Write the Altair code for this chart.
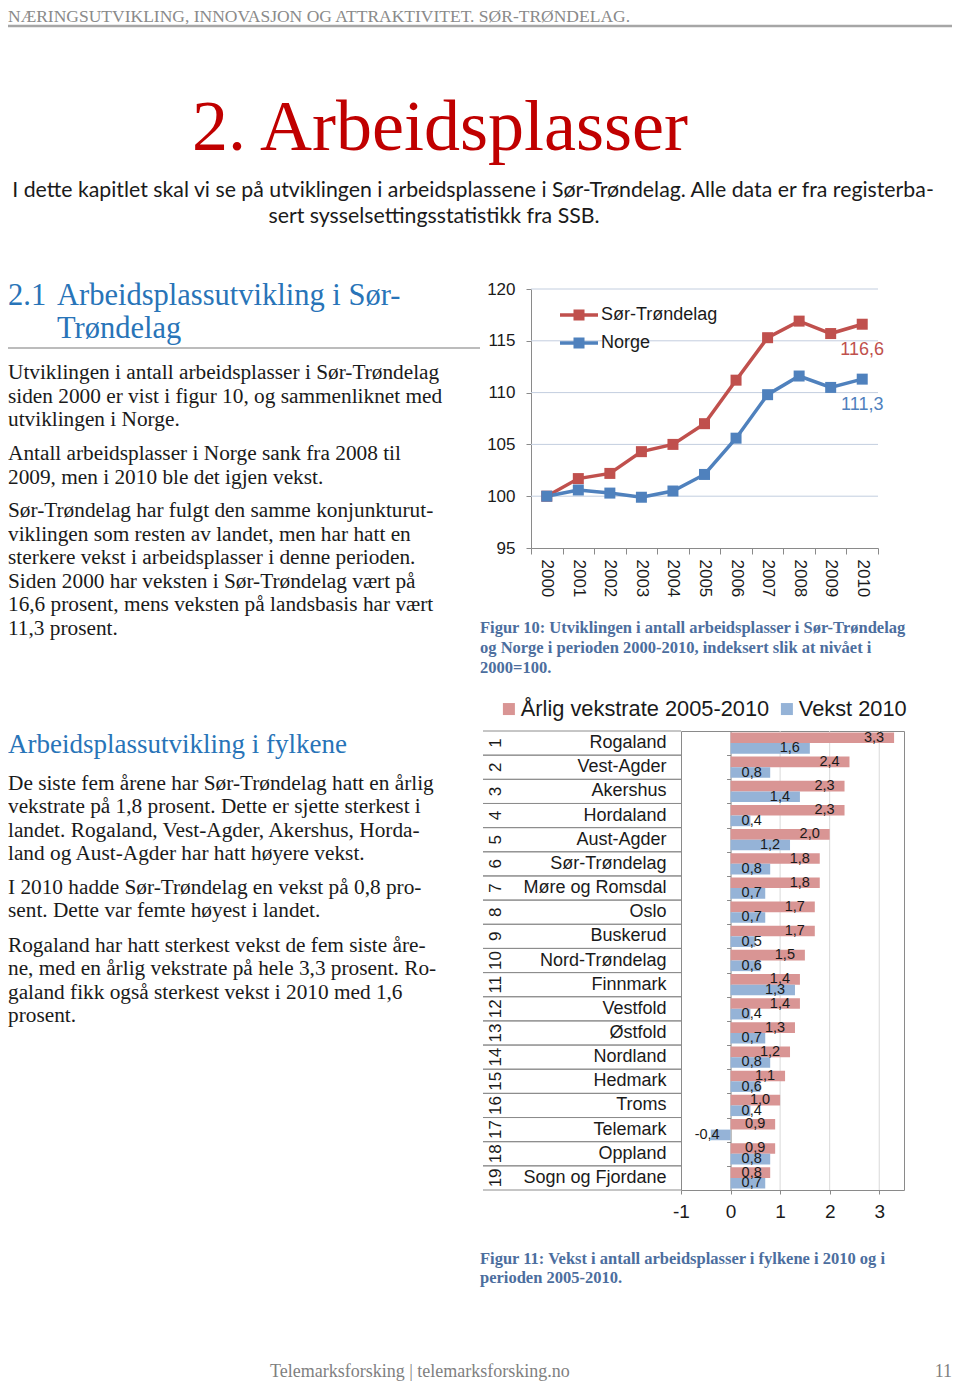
import altair as alt
import pandas as pd

# ---------------- data ----------------
years = ["2000", "2001", "2002", "2003", "2004", "2005", "2006", "2007", "2008", "2009", "2010"]
sor_trondelag = [100.0, 101.7, 102.2, 104.3, 105.0, 107.0, 111.2, 115.3, 116.9, 115.7, 116.6]
norge = [100.0, 100.6, 100.3, 99.9, 100.5, 102.1, 105.6, 109.8, 111.6, 110.5, 111.3]
line_series = ["Sør-Trøndelag", "Norge"]
line_colors = ["#C0504D", "#4F81BD"]
line_ticks = [95, 100, 105, 110, 115, 120]

fylker = ["Rogaland", "Vest-Agder", "Akershus", "Hordaland", "Aust-Agder", "Sør-Trøndelag",
          "Møre og Romsdal", "Oslo", "Buskerud", "Nord-Trøndelag", "Finnmark", "Vestfold",
          "Østfold", "Nordland", "Hedmark", "Troms", "Telemark", "Oppland", "Sogn og Fjordane"]
ranks = [1, 2, 3, 4, 5, 6, 7, 8, 9, 10, 11, 12, 13, 14, 15, 16, 17, 18, 19]
vekstrate_2005_2010 = [3.3, 2.4, 2.3, 2.3, 2.0, 1.8, 1.8, 1.7, 1.7, 1.5, 1.4, 1.4, 1.3, 1.2, 1.1, 1.0, 0.9, 0.9, 0.8]
vekst_2010 = [1.6, 0.8, 1.4, 0.4, 1.2, 0.8, 0.7, 0.7, 0.5, 0.6, 1.3, 0.4, 0.7, 0.8, 0.6, 0.4, -0.4, 0.8, 0.7]
bar_series = ["Årlig vekstrate 2005-2010", "Vekst 2010"]
bar_colors = ["#D99594", "#95B3D7"]
bar_ticks = [-1, 0, 1, 2, 3]
bar_grid = [1, 2, 3]

header = "NÆRINGSUTVIKLING, INNOVASJON OG ATTRAKTIVITET. SØR-TRØNDELAG."
title = "2. Arbeidsplasser"
intro = ["I dette kapitlet skal vi se på utviklingen i arbeidsplassene i Sør-Trøndelag. Alle data er fra registerba-",
         "sert sysselsettingsstatistikk fra SSB."]
heading1_num = "2.1"
heading1 = ["Arbeidsplassutvikling i Sør-", "Trøndelag"]
para1 = ["Utviklingen i antall arbeidsplasser i Sør-Trøndelag",
         "siden 2000 er vist i figur 10, og sammenliknet med",
         "utviklingen i Norge."]
para2 = ["Antall arbeidsplasser i Norge sank fra 2008 til",
         "2009, men i 2010 ble det igjen vekst."]
para3 = ["Sør-Trøndelag har fulgt den samme konjunkturut-",
         "viklingen som resten av landet, men har hatt en",
         "sterkere vekst i arbeidsplasser i denne perioden.",
         "Siden 2000 har veksten i Sør-Trøndelag vært på",
         "16,6 prosent, mens veksten på landsbasis har vært",
         "11,3 prosent."]
heading2 = "Arbeidsplassutvikling i fylkene"
para4 = ["De siste fem årene har Sør-Trøndelag hatt en årlig",
         "vekstrate på 1,8 prosent. Dette er sjette sterkest i",
         "landet. Rogaland, Vest-Agder, Akershus, Horda-",
         "land og Aust-Agder har hatt høyere vekst."]
para5 = ["I 2010 hadde Sør-Trøndelag en vekst på 0,8 pro-",
         "sent. Dette var femte høyest i landet."]
para6 = ["Rogaland har hatt sterkest vekst de fem siste åre-",
         "ne, med en årlig vekstrate på hele 3,3 prosent. Ro-",
         "galand fikk også sterkest vekst i 2010 med 1,6",
         "prosent."]
caption10 = ["Figur 10: Utviklingen i antall arbeidsplasser i Sør-Trøndelag",
             "og Norge i perioden 2000-2010, indeksert slik at nivået i",
             "2000=100."]
caption11 = ["Figur 11: Vekst i antall arbeidsplasser i fylkene i 2010 og i",
             "perioden 2005-2010."]
footer = "Telemarksforsking  |  telemarksforsking.no"
page_no = "11"

# ---------------- tables ----------------
line_df = pd.DataFrame({
    "year": years * 2,
    "series": [line_series[0]] * len(years) + [line_series[1]] * len(years),
    "value": sor_trondelag + norge,
})
bar_df = pd.DataFrame({
    "fylke": fylker * 2,
    "series": [bar_series[0]] * len(fylker) + [bar_series[1]] * len(fylker),
    "value": vekstrate_2005_2010 + vekst_2010,
})
names_df = pd.DataFrame({"fylke": fylker, "rank": ranks})
BLANK = alt.Data(values=[{}])

SERIF = "Liberation Serif"
SANS = "Liberation Sans"
W, H = 944, 1373

# ---------------- scales ----------------
LX = alt.Scale(type="band", domain=years, range=[523, 870], paddingInner=0, paddingOuter=0)
LY = alt.Scale(domain=[95, 120], range=[540, 281], nice=False, zero=False)
LC = alt.Scale(domain=line_series, range=line_colors)
BX = alt.Scale(domain=[-1, 3.5], range=[673, 896], nice=False, zero=False)
BY = alt.Scale(type="band", domain=fylker, range=[723, 1182], paddingInner=0.12, paddingOuter=0.06)
BY0 = alt.Scale(type="band", domain=fylker, range=[723, 1182], paddingInner=0, paddingOuter=0)
BC = alt.Scale(domain=bar_series, range=bar_colors)

AX = dict(title=None, grid=False, labelFont=SANS, labelColor="#1a1a1a",
          domainColor="#8a8a8a", tickColor="#8a8a8a", labelOverlap=False)


def text_block(lines, x, y, size, color, font=SERIF, weight="normal", align="left", lh=None):
    kw = dict(align=align, baseline="alphabetic", font=font, fontSize=size, color=color, fontWeight=weight)
    if lh is not None:
        kw["lineHeight"] = lh
    return alt.Chart(BLANK).mark_text(**kw).encode(
        x=alt.value(x), y=alt.value(y), text=alt.value(lines))


layers = []

# ---------------- page text ----------------
layers.append(text_block(header, 0, 14, 17.5, "#8a8a8a"))
layers.append(alt.Chart(BLANK).mark_rule(color="#a6a6a6", strokeWidth=2.5).encode(
    x=alt.value(0), x2=alt.value(W), y=alt.value(18)))
layers.append(text_block(title, 432, 142, 72, "#C00000", align="center"))
layers.append(text_block(intro[0], 465, 189, 21.3, "#1a1a1a", font="Lato", align="center"))
layers.append(text_block(intro[1], 426, 215, 21.3, "#1a1a1a", font="Lato", align="center"))

layers.append(text_block(heading1_num, 0, 297, 30.5, "#2874B8"))
layers.append(text_block(heading1, 49, 297, 30.5, "#2874B8", lh=33))
layers.append(alt.Chart(BLANK).mark_rule(color="#a6a6a6", strokeWidth=1.5).encode(
    x=alt.value(0), x2=alt.value(472), y=alt.value(340)))
layers.append(text_block(para1, 0, 371, 21.3, "#1a1a1a", lh=23.5))
layers.append(text_block(para2, 0, 452, 21.3, "#1a1a1a", lh=23.5))
layers.append(text_block(para3, 0, 509, 21.3, "#1a1a1a", lh=23.5))
layers.append(text_block(caption10, 472, 625, 16.5, "#4C6E9E", weight="bold", lh=20))

layers.append(text_block(heading2, 0, 745, 27, "#2874B8"))
layers.append(text_block(para4, 0, 782, 21.3, "#1a1a1a", lh=23.3))
layers.append(text_block(para5, 0, 886, 21.3, "#1a1a1a", lh=23.3))
layers.append(text_block(para6, 0, 944, 21.3, "#1a1a1a", lh=23.3))
layers.append(text_block(caption11, 472, 1256, 16.5, "#4C6E9E", weight="bold", lh=19))

layers.append(text_block(footer, 262, 1369, 18, "#7f7f7f"))
layers.append(text_block(page_no, W, 1369, 18, "#7f7f7f", align="right"))

# ---------------- figure 10: line chart ----------------
layers.append(alt.Chart(pd.DataFrame({"tick": line_ticks[1:]})).mark_rule(color="#C3CEDF", strokeWidth=1).encode(
    y=alt.Y("tick:Q", scale=LY, axis=None), x=alt.value(523), x2=alt.value(870)))

layers.append(alt.Chart(line_df).mark_line(strokeWidth=3.5).encode(
    x=alt.X("year:O", scale=LX, axis=alt.Axis(orient="bottom", offset=-(H - 540), labelAngle=90,
                                               labelFontSize=17, tickBand="extent", tickSize=6,
                                               labelPadding=5, **AX)),
    y=alt.Y("value:Q", scale=LY, axis=alt.Axis(orient="left", offset=-523, values=line_ticks,
                                               labelFontSize=17, tickSize=5, labelPadding=11, **AX)),
    color=alt.Color("series:N", scale=LC, legend=None),
    detail="series:N",
))

legend_symbol = "M-1,-0.09H1V0.09H-1Z M-0.29,-0.29H0.29V0.29H-0.29Z"
layers.append(alt.Chart(line_df).mark_point(shape="square", filled=True, size=121, opacity=1).encode(
    x=alt.X("year:O", scale=LX, axis=None),
    y=alt.Y("value:Q", scale=LY, axis=None),
    color=alt.Color("series:N", scale=LC, legend=alt.Legend(
        title=None, orient="none", legendX=552, legendY=288, symbolType=legend_symbol, symbolSize=1444,
        symbolStrokeWidth=0, symbolOpacity=1, labelFont=SANS, labelFontSize=18, labelColor="#1a1a1a",
        labelOffset=3, rowPadding=-7, padding=0, labelLimit=400)),
))

layers.append(alt.Chart(line_df).transform_filter(alt.datum.year == years[-1]).transform_calculate(
    label="replace(format(datum.value, '.1f'), '.', ',')"
).mark_text(dy=26, fontSize=18, font=SANS, align="center", baseline="middle").encode(
    x=alt.X("year:O", scale=LX, axis=None),
    y=alt.Y("value:Q", scale=LY, axis=None),
    text="label:N",
    color=alt.Color("series:N", scale=LC, legend=None),
))

# ---------------- figure 11: bar chart ----------------
layers.append(alt.Chart(pd.DataFrame({"tick": bar_grid})).mark_rule(color="#D9D9D9", strokeWidth=1).encode(
    x=alt.X("tick:Q", scale=BX, axis=alt.Axis(orient="top", offset=-723, labels=False, ticks=False, **AX)),
    y=alt.value(723), y2=alt.value(1182)))

layers.append(alt.Chart(names_df).mark_rule(color="#8c8c8c", strokeWidth=1).encode(
    y=alt.Y("fylke:N", scale=BY0, bandPosition=0, axis=alt.Axis(
        orient="left", offset=-673, ticks=False, labelPadding=15, labelFontSize=18, labelLimit=400, **AX)),
    x=alt.value(475), x2=alt.value(673)))
layers.append(alt.Chart(names_df).mark_rule(color="#8c8c8c", strokeWidth=1).encode(
    y=alt.Y("fylke:N", scale=BY0, bandPosition=1, axis=None),
    x=alt.value(475), x2=alt.value(673)))

layers.append(alt.Chart(names_df).mark_text(angle=270, fontSize=17, font=SANS, color="#1a1a1a",
                                            align="center", baseline="middle").encode(
    y=alt.Y("fylke:N", scale=BY0, axis=alt.Axis(
        orient="left", offset=-722.56, labels=False, tickBand="extent", tickSize=4, **AX)),
    x=alt.value(488),
    text="rank:N"))

layers.append(alt.Chart(bar_df).mark_bar().encode(
    y=alt.Y("fylke:N", scale=BY, axis=alt.Axis(orient="right", offset=-(W - 896), labels=False, ticks=False, **AX)),
    yOffset=alt.YOffset("series:N", scale=alt.Scale(domain=bar_series)),
    x=alt.X("value:Q", scale=BX, axis=alt.Axis(
        orient="bottom", offset=-(H - 1182), values=bar_ticks, labelExpr="datum.value + ''",
        labelFontSize=19, tickSize=4, labelPadding=8, labelFlush=False, **AX)),
    color=alt.Color("series:N", scale=BC, legend=alt.Legend(
        title=None, orient="none", legendX=490, legendY=690, direction="horizontal", symbolType="square",
        symbolSize=144, symbolStrokeWidth=0, symbolOpacity=1, labelFont=SANS, labelFontSize=21.8,
        labelColor="#1a1a1a", labelOffset=1, columnPadding=6, padding=0, labelLimit=500)),
))

layers.append(alt.Chart(bar_df).transform_calculate(
    label="replace(replace(format(datum.value, '.1f'), '.', ','), '\u2212', '-')",
    lx="datum.value < 0 ? datum.value + 0.18 : max(datum.value - 0.2, 0.63)",
).mark_text(fontSize=14.5, font=SANS, color="#1a1a1a", align="right", baseline="middle").encode(
    y=alt.Y("fylke:N", scale=BY, axis=None),
    yOffset=alt.YOffset("series:N", scale=alt.Scale(domain=bar_series)),
    x=alt.X("lx:Q", scale=BX, axis=None),
    text="label:N",
))

chart = alt.layer(*layers).resolve_scale(
    x="independent", y="independent", color="independent"
).properties(
    width=W, height=H, padding=0, autosize=alt.AutoSizeParams(type="none"), background="white"
).configure_view(strokeWidth=0)

chart.save("out.html", embed_options={"renderer": "svg", "actions": False})
